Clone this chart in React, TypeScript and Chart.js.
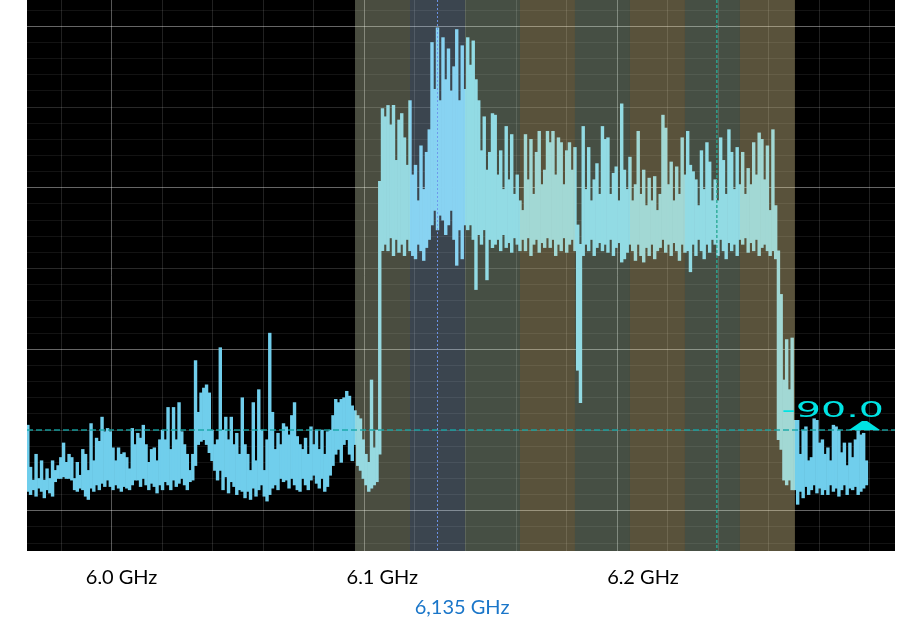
import React, { useEffect, useRef } from 'react';
import { Chart, registerables } from 'chart.js';

Chart.register(...registerables);

// ---- data ----
const traceStartMHz = 5986; // first bin, 1 MHz per bin
const traceHigh = [
  -89.7, -92.3, -93.1, -91.5, -93.0, -91.9, -93.1, -92.4, -93.0, -91.9,
  -92.5, -92.2, -91.7, -90.8, -92.0, -91.5, -91.7, -93.0, -92.0, -92.8,
  -91.2, -91.5, -92.5, -89.6, -91.9, -90.5, -90.7, -89.2, -90.1, -89.9,
  -90.1, -91.1, -91.9, -91.1, -91.5, -91.4, -91.7, -92.4, -89.9, -90.9,
  -90.2, -90.5, -89.7, -90.9, -92.0, -91.2, -91.1, -91.9, -90.6, -90.0,
  -90.6, -88.6, -91.2, -88.6, -90.6, -88.3, -90.1, -90.9, -91.5, -92.5,
  -91.5, -85.7, -88.9, -87.7, -87.4, -87.2, -87.7, -90.0, -90.9, -90.6,
  -84.9, -90.0, -89.2, -90.6, -89.2, -90.9, -90.2, -91.5, -88.0, -90.9,
  -91.5, -92.5, -88.3, -91.9, -87.5, -90.0, -92.5, -90.6, -84.0, -88.9,
  -91.2, -90.2, -90.9, -89.6, -89.8, -90.3, -89.1, -88.3, -90.4, -90.9,
  -91.2, -90.5, -91.5, -89.8, -90.9, -90.0, -91.2, -90.0, -91.5, -90.1,
  -90.0, -89.1, -88.1, -88.3, -88.1, -88.0, -87.6, -87.9, -88.5, -88.8,
  -89.1, -89.3, -90.6, -91.5, -92.0, -86.9, -91.1, -90.0, -74.6, -70.1,
  -70.6, -69.9, -71.1, -69.9, -73.3, -70.8, -70.4, -71.9, -73.6, -69.6,
  -74.2, -73.6, -75.8, -72.4, -75.1, -72.8, -71.4, -66.0, -68.9, -65.1,
  -69.6, -65.7, -68.3, -66.4, -69.0, -67.5, -65.2, -69.6, -66.2, -68.9,
  -65.7, -67.4, -65.9, -68.3, -69.6, -72.7, -70.6, -73.9, -72.8, -70.4,
  -70.5, -74.2, -72.7, -75.1, -71.2, -74.5, -71.7, -75.4, -74.2, -75.8,
  -76.4, -71.7, -74.5, -72.0, -75.4, -72.8, -71.5, -74.8, -73.9, -71.5,
  -72.2, -71.5, -74.2, -71.9, -72.2, -74.8, -72.7, -72.2, -73.9, -72.5,
  -77.3, -78.5, -71.2, -75.1, -72.5, -75.8, -74.5, -73.5, -75.4, -71.2,
  -72.0, -71.9, -75.4, -74.1, -73.7, -75.8, -69.8, -73.9, -75.1, -73.1,
  -75.8, -74.8, -71.5, -75.4, -73.9, -76.1, -74.4, -75.8, -74.3, -76.4,
  -75.4, -70.5, -71.3, -74.8, -73.4, -75.8, -73.7, -75.4, -71.9, -74.2,
  -71.5, -73.6, -74.0, -74.5, -76.1, -72.7, -75.1, -72.2, -73.4, -75.8,
  -74.5, -75.8, -71.9, -73.3, -75.4, -71.4, -72.8, -75.1, -72.5, -74.8,
  -72.8, -75.4, -73.8, -74.8, -72.2, -74.2, -71.6, -72.0, -74.5, -72.4,
  -76.4, -71.4, -76.1, -78.9, -81.6, -86.9, -84.4, -87.5, -84.3, -89.4,
  -89.4, -91.5, -90.0, -89.8, -91.9, -91.7, -89.3, -89.4, -90.8, -90.6,
  -91.5, -91.1, -91.9, -89.7, -89.8, -90.0, -91.4, -90.8, -92.2, -90.8,
  -91.7, -90.6, -90.0, -90.3, -90.2, -91.9,
];
const traceLow = [
  -93.8, -94.0, -93.7, -94.1, -93.6, -93.8, -94.2, -93.7, -93.9, -94.1,
  -93.2, -93.0, -93.0, -92.9, -93.0, -93.0, -93.1, -93.7, -93.8, -93.6,
  -93.7, -94.1, -94.3, -93.6, -93.8, -93.4, -93.7, -93.3, -93.5, -93.1,
  -93.5, -93.7, -93.4, -93.6, -93.8, -93.5, -93.6, -93.7, -93.4, -93.1,
  -93.1, -93.5, -93.0, -93.4, -93.7, -93.3, -93.5, -93.9, -93.4, -93.7,
  -93.2, -93.4, -93.7, -93.1, -93.5, -93.3, -93.0, -93.4, -93.7, -93.2,
  -93.1, -92.2, -90.9, -90.7, -90.6, -90.9, -91.4, -91.9, -92.5, -93.1,
  -92.5, -93.7, -92.9, -93.9, -93.2, -93.5, -94.0, -93.7, -93.8, -94.2,
  -93.8, -94.3, -93.6, -94.1, -93.7, -93.4, -94.1, -94.4, -94.0, -93.6,
  -93.4, -93.7, -93.0, -93.2, -93.1, -93.6, -93.0, -93.4, -93.7, -93.8,
  -93.0, -93.4, -93.7, -93.1, -92.8, -93.3, -93.6, -93.0, -93.8, -93.5,
  -92.8, -92.2, -91.5, -91.2, -92.0, -90.9, -90.6, -91.5, -91.9, -90.9,
  -92.2, -92.5, -93.0, -93.4, -93.8, -93.6, -93.4, -93.2, -91.5, -78.9,
  -78.5, -78.9, -78.1, -79.2, -78.2, -79.0, -78.5, -79.2, -78.2, -78.9,
  -79.2, -79.4, -78.5, -78.9, -79.5, -78.7, -78.2, -77.3, -76.4, -77.6,
  -76.7, -77.0, -77.9, -77.3, -76.4, -78.2, -79.8, -77.6, -79.4, -77.3,
  -77.6, -77.3, -78.2, -81.3, -77.9, -78.5, -77.6, -80.7, -78.2, -78.7,
  -78.5, -78.2, -78.9, -77.9, -78.7, -78.4, -79.0, -78.1, -78.5, -78.9,
  -78.2, -78.9, -78.1, -79.2, -78.5, -78.2, -79.0, -78.4, -78.7, -78.1,
  -78.7, -78.2, -79.2, -78.5, -78.9, -78.1, -79.0, -78.5, -78.2, -78.9,
  -86.3, -88.3, -79.2, -78.5, -78.9, -78.2, -79.2, -78.7, -78.4, -78.9,
  -78.5, -79.0, -78.2, -79.2, -78.7, -78.4, -79.6, -79.4, -79.0, -78.5,
  -78.9, -79.5, -78.5, -79.2, -79.6, -78.7, -79.2, -78.5, -79.4, -78.9,
  -78.7, -78.2, -79.0, -78.5, -79.2, -78.4, -78.9, -79.5, -78.5, -79.0,
  -78.9, -80.2, -78.5, -79.2, -78.2, -78.9, -79.4, -78.5, -79.0, -78.2,
  -78.5, -79.2, -78.2, -78.9, -79.4, -78.4, -78.9, -78.5, -79.2, -78.2,
  -78.5, -78.1, -79.0, -78.4, -78.9, -78.2, -79.2, -78.7, -78.5, -78.9,
  -79.2, -78.9, -79.4, -90.6, -91.2, -93.1, -93.4, -93.1, -93.7, -93.7,
  -94.6, -93.8, -94.2, -93.5, -94.0, -93.7, -93.4, -93.9, -93.6, -94.0,
  -93.7, -94.0, -93.4, -93.8, -93.6, -94.1, -93.7, -93.4, -94.0, -93.6,
  -93.7, -93.5, -94.0, -93.8, -93.6, -93.4,
];
const channelEdgesMHz = [6105, 6125, 6145, 6165, 6185, 6205, 6225, 6245, 6265];
const channelTints = ['olive', 'blue', 'green', 'brown', 'green', 'brown', 'green', 'brown'];
const centerMHz = 6135;
const markerMHz = 6236.6;
const refLevel = -90;
const refLabel = '-90.0';
const axisLabelsGHz = [6.0, 6.1, 6.2];
const centerLabelGHz = [6.135];

// ---- view constants ----
const FREQ_MIN = 5985.7;
const FREQ_MAX = 6301.4;
const LEVEL_MIN = -97.49;
const LEVEL_MAX = -63.37;
const GRID_START = 5998.09;
const GRID_STEP = 18.385;
const GRID_COUNT = 17;
const GRID_MAJOR = [1, 6, 11];
const LABEL_MIN = 5.96371;
const LABEL_MAX = 6.29666;

const TINT_COLORS: Record<string, string> = {
  olive: 'rgba(230,240,200,0.32)',
  blue: 'rgba(190,222,255,0.31)',
  green: 'rgba(218,247,212,0.32)',
  brown: 'rgba(255,235,168,0.35)',
};

const spectrumPlugin = {
  id: 'spectrumDecor',
  beforeDraw(chart: any) {
    const { ctx, chartArea: a } = chart;
    ctx.save();
    ctx.fillStyle = '#000';
    ctx.fillRect(a.left, a.top, a.right - a.left, a.bottom - a.top);
    ctx.restore();
  },
  afterDatasetsDraw(chart: any) {
    const { ctx, chartArea: a } = chart;
    const xs = chart.scales.x;
    ctx.save();
    for (let i = 0; i < channelTints.length; i++) {
      const x0 = xs.getPixelForValue(channelEdgesMHz[i]);
      const x1 = xs.getPixelForValue(channelEdgesMHz[i + 1]);
      ctx.fillStyle = TINT_COLORS[channelTints[i]];
      ctx.fillRect(x0, a.top, x1 - x0, a.bottom - a.top);
    }
    ctx.restore();
  },
  afterDraw(chart: any) {
    const { ctx, chartArea: a } = chart;
    const xs = chart.scales.x;
    const ys = chart.scales.y;
    const yRef = ys.getPixelForValue(refLevel);
    ctx.save();
    // reference level dashed line
    ctx.beginPath();
    ctx.setLineDash([6, 3]);
    ctx.lineWidth = 1.5;
    ctx.strokeStyle = 'rgba(20,165,165,0.9)';
    ctx.moveTo(a.left, yRef);
    ctx.lineTo(a.right, yRef);
    ctx.stroke();
    // center frequency dotted line
    const xc = Math.round(xs.getPixelForValue(centerMHz)) + 0.5;
    ctx.beginPath();
    ctx.setLineDash([2, 2]);
    ctx.lineWidth = 1;
    ctx.strokeStyle = 'rgba(110,150,235,0.95)';
    ctx.moveTo(xc, a.top);
    ctx.lineTo(xc, a.bottom);
    ctx.stroke();
    // marker dotted line
    const xm = xs.getPixelForValue(markerMHz);
    ctx.beginPath();
    ctx.setLineDash([3, 2]);
    ctx.lineWidth = 1.5;
    ctx.strokeStyle = 'rgba(40,170,150,0.9)';
    ctx.moveTo(xm, a.top);
    ctx.lineTo(xm, a.bottom);
    ctx.stroke();
    ctx.setLineDash([]);
    // reference level readout
    ctx.fillStyle = '#00e3e3';
    ctx.font = '22px "DejaVu Sans"';
    ctx.textAlign = 'right';
    ctx.textBaseline = 'alphabetic';
    ctx.save();
    ctx.translate(a.right - 11, yRef - 13);
    ctx.scale(1.8, 1);
    ctx.fillText(refLabel, 0, 0);
    ctx.restore();
    // reference marker triangle
    ctx.beginPath();
    ctx.moveTo(a.right - 46, yRef);
    ctx.lineTo(a.right - 33, yRef - 9);
    ctx.lineTo(a.right - 28, yRef - 9);
    ctx.lineTo(a.right - 15, yRef);
    ctx.closePath();
    ctx.fill();
    ctx.restore();
  },
};

const fmtGHz = (v: number, digits: number) => v.toFixed(digits).replace('.', ',') + ' GHz';

export default function App() {
  const ref = useRef<HTMLCanvasElement>(null);
  useEffect(() => {
    const traceData = traceHigh.map((hi, i) => ({ x: traceStartMHz + i, y: [traceLow[i], hi] }));
    const gridValues: number[] = [];
    for (let k = 0; k < GRID_COUNT; k++) gridValues.push(GRID_START + GRID_STEP * k);
    const levelValues: number[] = [];
    for (let v = Math.ceil(LEVEL_MIN); v <= Math.floor(LEVEL_MAX); v++) levelValues.push(v);

    const chart = new Chart(ref.current as HTMLCanvasElement, {
      type: 'bar',
      data: {
        datasets: [
          {
            data: traceData as any,
            backgroundColor: 'rgb(112,206,236)',
            borderWidth: 0,
            barPercentage: 1,
            categoryPercentage: 1,
            xAxisID: 'x',
            yAxisID: 'y',
          } as any,
        ],
      },
      options: {
        responsive: false,
        animation: false,
        devicePixelRatio: 1,
        layout: { padding: { left: 27, right: 11, top: 0, bottom: 0 } },
        plugins: { legend: { display: false }, tooltip: { enabled: false } },
        scales: {
          x: {
            type: 'linear',
            min: FREQ_MIN,
            max: FREQ_MAX,
            offset: false,
            z: 1,
            weight: 0,
            grid: {
              offset: false,
              drawTicks: false,
              lineWidth: 1,
              color: (c: any) =>
                GRID_MAJOR.includes(c.index) ? 'rgba(255,255,255,0.34)' : 'rgba(255,255,255,0.13)',
            },
            border: { display: false },
            ticks: { display: false },
            afterBuildTicks: (s: any) => {
              s.ticks = gridValues.map((v) => ({ value: v }));
            },
            afterFit: (s: any) => {
              s.height = 0;
            },
          } as any,
          y: {
            type: 'linear',
            min: LEVEL_MIN,
            max: LEVEL_MAX,
            z: 1,
            grid: {
              drawTicks: false,
              lineWidth: 1,
              color: (c: any) => {
                const v = Math.round(c.tick.value);
                if (v % 10 === -5) return 'rgba(255,255,255,0.40)';
                if (v % 5 === 0) return 'rgba(255,255,255,0.16)';
                return 'rgba(255,255,255,0.075)';
              },
            },
            border: { display: false },
            ticks: { display: false },
            afterBuildTicks: (s: any) => {
              s.ticks = levelValues.map((v) => ({ value: v }));
            },
            afterFit: (s: any) => {
              s.width = 0;
            },
          } as any,
          xl: {
            type: 'linear',
            position: 'bottom',
            min: LABEL_MIN,
            max: LABEL_MAX,
            offset: false,
            weight: 1,
            grid: { display: false, offset: false },
            border: { display: false },
            ticks: {
              autoSkip: false,
              maxRotation: 0,
              padding: 7,
              color: '#000',
              font: { family: 'Lato', size: 20 },
              callback: (v: any) => fmtGHz(Number(v), 1),
            },
            afterBuildTicks: (s: any) => {
              s.ticks = axisLabelsGHz.map((v) => ({ value: v }));
            },
            afterFit: (s: any) => {
              s.height = 33;
            },
          } as any,
          xm: {
            type: 'linear',
            position: 'bottom',
            min: LABEL_MIN,
            max: LABEL_MAX,
            offset: false,
            weight: 2,
            grid: { display: false, offset: false },
            border: { display: false },
            ticks: {
              autoSkip: false,
              maxRotation: 0,
              padding: 4,
              labelOffset: -11.5,
              color: '#1a76c9',
              font: { family: 'Lato', size: 20 },
              callback: (v: any) => fmtGHz(Number(v), 3),
            },
            afterBuildTicks: (s: any) => {
              s.ticks = centerLabelGHz.map((v) => ({ value: v }));
            },
            afterFit: (s: any) => {
              s.height = 40;
            },
          } as any,
        },
      },
      plugins: [spectrumPlugin],
    });
    return () => chart.destroy();
  }, []);

  return (
    <div style={{ position: 'fixed', left: 0, top: 0, width: 906, height: 624, background: '#fff' }}>
      <canvas ref={ref} width={906} height={624} style={{ display: 'block', width: 906, height: 624 }} />
    </div>
  );
}
